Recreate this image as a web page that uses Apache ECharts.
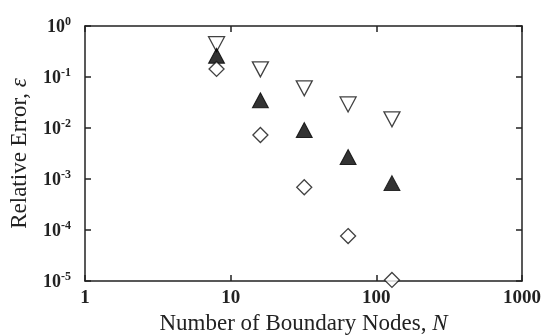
<!DOCTYPE html>
<html><head><meta charset="utf-8">
<script src="https://cdn.jsdelivr.net/npm/echarts@6/dist/echarts.min.js"></script>
<style>html,body{margin:0;padding:0;background:#fff}#c{width:541px;height:336px}</style>
</head><body><div id="c"></div>
<script>
var nodes = [8, 16, 32, 64, 128];
var errDownTri = [0.44, 0.141, 0.060, 0.029, 0.0148];
var errFilledTri = [0.26, 0.035, 0.0091, 0.0027, 0.00083];
var errDiamond = [0.144, 0.0073, 0.00069, 0.000076, 0.0000105];
var xTicks = [1, 10, 100, 1000];
var yTicks = [1e-5, 1e-4, 1e-3, 1e-2, 1e-1, 1e0];

function pairs(ys){ return nodes.map(function(x,i){ return [x, ys[i]]; }); }
var axisColor = '#222';
var font = '"Liberation Serif", "Times New Roman", serif';

var chart = echarts.init(document.getElementById('c'), null, {renderer:'canvas'});
chart.setOption({
  animation: false,
  backgroundColor: '#fff',
  grid: {left: 85, right: 19, top: 26, bottom: 55, containLabel: false, outerBoundsMode: 'none'},
  xAxis: [{
    type: 'log', logBase: 10, min: 1, max: 1000,
    axisLine: {lineStyle: {color: axisColor, width: 1.5}},
    axisTick: {inside: true, length: 6, lineStyle: {color: axisColor, width: 1.5}},
    minorTick: {show: false},
    splitLine: {show: false},
    axisLabel: {fontFamily: font, fontWeight: 'bold', fontSize: 19, color: '#222', margin: 8,
      formatter: function(v){ return String(Math.round(v)); }},
    name: '{n|Number of Boundary Nodes, }{i|N}',
    nameLocation: 'middle', nameGap: 31,
    nameTextStyle: {rich: {
      n: {fontFamily: font, fontSize: 23, color: '#222'},
      i: {fontFamily: font, fontSize: 23, color: '#222', fontStyle: 'italic'}
    }}
  }, {
    type: 'log', logBase: 10, min: 1, max: 1000, position: 'top',
    axisLine: {lineStyle: {color: axisColor, width: 1.5}},
    axisTick: {inside: true, length: 6, lineStyle: {color: axisColor, width: 1.5}},
    axisLabel: {show: false}, splitLine: {show: false}
  }],
  yAxis: [{
    type: 'log', logBase: 10, min: 1e-5, max: 1,
    axisLine: {show: true, lineStyle: {color: axisColor, width: 1.5}},
    axisTick: {show: true, inside: true, length: 6, lineStyle: {color: axisColor, width: 1.5}},
    splitLine: {show: false},
    axisLabel: {margin: 14, color: '#222',
      formatter: function(v){
        var e = Math.round(Math.log10(v));
        return '{b|10}{s|' + e + '}';
      },
      rich: {
        b: {fontFamily: font, fontWeight: 'bold', fontSize: 18, color: '#222', verticalAlign: 'bottom', lineHeight: 20},
        s: {fontFamily: font, fontWeight: 'bold', fontSize: 12, color: '#222', verticalAlign: 'top', lineHeight: 20, padding: [0,0,9,0]}
      }
    },
    name: '{n|Relative Error, }{i|ε}',
    nameLocation: 'middle', nameGap: 54, nameRotate: 90,
    nameTextStyle: {rich: {
      n: {fontFamily: font, fontSize: 23, color: '#222'},
      i: {fontFamily: font, fontSize: 23, color: '#222', fontStyle: 'italic'}
    }}
  }, {
    type: 'log', logBase: 10, min: 1e-5, max: 1, position: 'right',
    axisLine: {show: true, lineStyle: {color: axisColor, width: 1.5}},
    axisTick: {show: true, inside: true, length: 6, lineStyle: {color: axisColor, width: 1.5}},
    axisLabel: {show: false}, splitLine: {show: false}
  }],
  series: [{
    type: 'scatter', data: pairs(errDownTri), symbol: 'triangle', symbolRotate: 180,
    symbolSize: [16, 15],
    itemStyle: {color: '#fff', borderColor: '#111', borderWidth: 1.3}
  }, {
    type: 'scatter', data: pairs(errFilledTri), symbol: 'triangle',
    symbolSize: [16, 15],
    itemStyle: {color: '#000', borderColor: '#000', borderWidth: 1}
  }, {
    type: 'scatter', data: pairs(errDiamond), symbol: 'diamond',
    symbolSize: [15, 15],
    itemStyle: {color: '#fff', borderColor: '#111', borderWidth: 1.3}
  }]
});
</script></body></html>
